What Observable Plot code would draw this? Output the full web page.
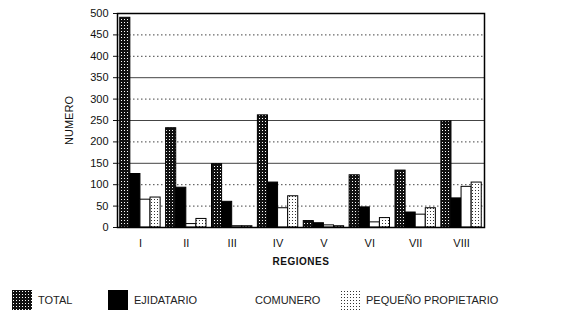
<!DOCTYPE html>
<html><head><meta charset="utf-8">
<script src="https://cdn.jsdelivr.net/npm/d3@7"></script>
<script src="https://cdn.jsdelivr.net/npm/@observablehq/plot@0.6"></script>
<style>
body{margin:0;background:#fff;font-family:"Liberation Sans",Arial,sans-serif;}
#legend{position:relative;height:54px;font-size:11px;color:#222;}
.item{position:absolute;top:20px;height:20px;display:flex;align-items:center;gap:6px;}
</style></head><body>
<svg width="0" height="0" style="position:absolute">
<defs>
<pattern id="pTotal" width="3" height="3" patternUnits="userSpaceOnUse">
<rect width="3" height="3" fill="#111"/><rect x="1" y="1" width="1" height="1" fill="#fff"/></pattern>
<pattern id="pEjid" width="4" height="4" patternUnits="userSpaceOnUse">
<rect width="4" height="4" fill="#000"/></pattern>
<pattern id="pCom" width="4" height="4" patternUnits="userSpaceOnUse">
<rect width="4" height="4" fill="#fff"/></pattern>
<pattern id="pPeq" width="3" height="3" patternUnits="userSpaceOnUse">
<rect width="3" height="3" fill="#fff"/><rect x="1" y="1" width="1" height="1" fill="#333"/></pattern>
</defs></svg>
<div id="chart"></div>
<div id="legend"></div>
<script>
const regions = ["I","II","III","IV","V","VI","VII","VIII"];
const seriesNames = ["TOTAL","EJIDATARIO","COMUNERO","PEQUEÑO PROPIETARIO"];
const total =       [490, 232, 148, 262, 15, 122, 133, 248];
const ejidatario =  [125,  93,  60, 105, 10,  47,  35,  68];
const comunero =    [ 65,   8,   3,  45,  5,  12,  30,  95];
const pequeno =     [ 70,  20,   3,  73,  3,  22,  45, 105];
const yTicks = [0,50,100,150,200,250,300,350,400,450,500];
const gridSolid = [150,250,350];
const gridDotted = [50,100,200,300,400,450];
const fills = ["url(#pTotal)","url(#pEjid)","url(#pCom)","url(#pPeq)"];

// group layout in region-index units
const groupPad = 0.06, barW = (1 - 2*groupPad) / seriesNames.length;
const seriesVals = [total, ejidatario, comunero, pequeno];
const data = [];
regions.forEach((r,i)=>seriesNames.forEach((s,j)=>data.push({
  region:r, series:s, value:seriesVals[j][i],
  x1: i + groupPad + j*barW, x2: i + groupPad + (j+1)*barW
})));
const xTicks = regions.map((r,i)=>i+0.5);

const chart = Plot.plot({
  width:587, height:270,
  marginLeft:117, marginRight:103, marginTop:13, marginBottom:43,
  style:{fontFamily:"'Liberation Sans', Arial, sans-serif", fontSize:"11px", color:"#111", background:"#fff"},
  x:{domain:[0, regions.length]},
  y:{domain:[0,500]},
  color:{domain:seriesNames, range:fills},
  marks:[
    Plot.ruleY(gridDotted,{stroke:"#444", strokeDasharray:"1.5,2.5", strokeWidth:1}),
    Plot.ruleY(gridSolid,{stroke:"#444", strokeWidth:1}),
    Plot.axisY({ticks:yTicks, tickSize:4, label:"NUMERO", labelAnchor:"center", labelOffset:52, labelArrow:"none"}),
    Plot.axisX({ticks:xTicks, tickFormat:d=>regions[Math.round(d-0.5)], tickSize:0, tickPadding:12, label:"REGIONES", labelAnchor:"center", labelOffset:37, labelArrow:"none"}),
    Plot.rectY(data,{x1:"x1", x2:"x2", y:"value", fill:"series", stroke:"#000", strokeWidth:1}),
    Plot.frame({stroke:"#000", strokeWidth:1.5})
  ]
});
document.getElementById("chart").appendChild(chart);
const lab = chart.querySelector('[aria-label="x-axis label"] text') || chart.querySelector('[aria-label="x-axis label"]');
if (lab) { lab.style.fontWeight="bold"; lab.style.fontSize="10px"; lab.style.letterSpacing="0.5px"; }

const legend = document.getElementById("legend");
const legPos = [12, 108, 255, 340];
seriesNames.forEach((s,j)=>{
  const d = document.createElement("div");
  d.className="item"; d.style.left=legPos[j]+"px";
  const sw = j===2 ? "" : `<svg width="20" height="20"><rect width="20" height="20" fill="${fills[j]}"/></svg>`;
  d.innerHTML = sw + `<span>${s}</span>`;
  legend.appendChild(d);
});
</script></body></html>
